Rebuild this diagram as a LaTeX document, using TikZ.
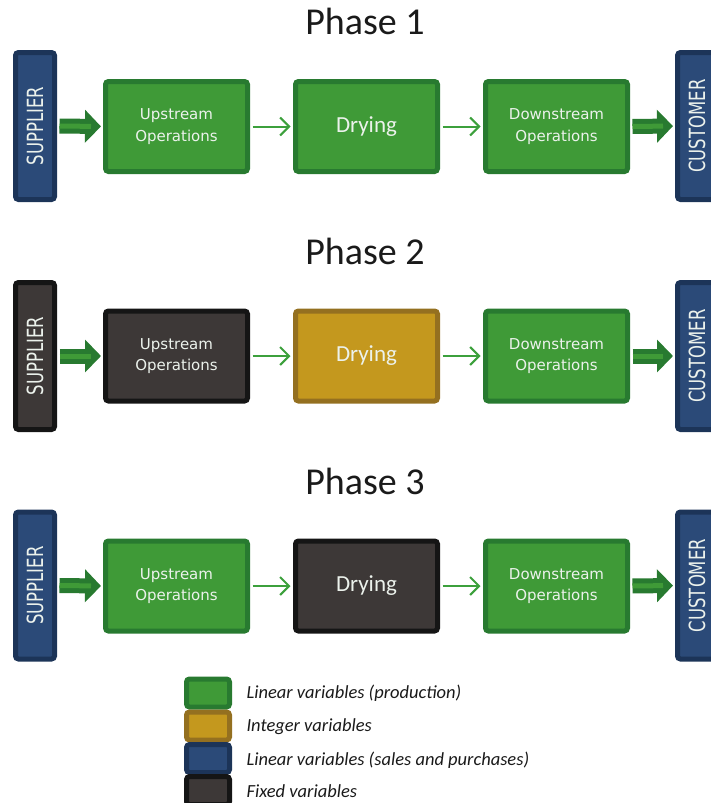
\documentclass[tikz,border=0pt]{standalone}
\usepackage{fontspec}
\setmainfont{Carlito}
\newfontfamily\boxfont{DejaVu Sans}
\usetikzlibrary{arrows.meta}

\definecolor{grnfill}{HTML}{3F9A37}
\definecolor{grnline}{HTML}{287A30}
\definecolor{bluefill}{HTML}{2B4A78}
\definecolor{blueline}{HTML}{1C3458}
\definecolor{goldfill}{HTML}{C4981E}
\definecolor{goldline}{HTML}{947020}
\definecolor{darkfill}{HTML}{3D3837}
\definecolor{darkline}{HTML}{151515}
\definecolor{arrowgrn}{HTML}{3CA03C}
\definecolor{boxtext}{HTML}{ECF2EC}
\definecolor{titletext}{HTML}{1A1A1A}

\begin{document}
\begin{tikzpicture}[x=1pt,y=-1pt,
  proc/.style={draw, line width=5pt, rounded corners=3pt, inner sep=0pt,
    minimum width=142pt, minimum height=90pt, align=center, text=boxtext},
  opbox/.style={proc, font=\boxfont\fontsize{15}{21.5}\selectfont},
  drybox/.style={proc, font=\fontsize{23}{27}\selectfont},
  side/.style={draw=blueline, fill=bluefill, line width=5pt, rounded corners=3pt,
    inner sep=0pt, minimum width=39pt, minimum height=147pt, text=boxtext,
    font=\boxfont\fontsize{16.5}{20}\selectfont},
  green/.style={fill=grnfill, draw=grnline},
  gold/.style={fill=goldfill, draw=goldline},
  blue/.style={fill=bluefill, draw=blueline},
  dark/.style={fill=darkfill, draw=darkline},
  title/.style={anchor=base, text=titletext, font=\fontsize{38}{44}\selectfont},
  flow/.style={draw=arrowgrn, line width=2pt, shorten <=2.5pt, shorten >=2.5pt,
    -{Straight Barb[length=9pt,width=18pt,line width=2pt]}},
  feedouter/.style={draw=grnline, line width=15pt, shorten <=2.5pt, shorten >=2pt,
    -{Triangle[length=16pt,width=32pt]}},
  feedinner/.style={draw=grnfill, line width=5pt, shorten <=2.5pt, shorten >=12pt},
  legbox/.style={draw, line width=5pt, rounded corners=3pt, inner sep=0pt,
    minimum width=43pt, minimum height=28pt},
  legtext/.style={anchor=west, text=titletext, font=\itshape\fontsize{18.5}{22}\selectfont}
]
\useasboundingbox (0,0) rectangle (710,803);

\newcommand{\sidelabel}[1]{\rotatebox{90}{\scalebox{1}[1.35]{#1}}}

% ---------- Phase 1 ----------
\node[title] (t1) at (365,34) {Phase 1};
\node[side, blue] (s1) at (35,126) {\sidelabel{SUPPLIER}};
\node[opbox, green] (u1) at (176.5,126.5) {Upstream\\Operations};
\node[drybox, green] (r1) at (366.5,126.5) {Drying};
\node[opbox, green] (d1) at (556.5,126.5) {Downstream\\Operations};
\node[side, blue] (c1) at (697,126) {\sidelabel{CUSTOMER}};

% ---------- Phase 2 ----------
\node[title] (t2) at (365,264) {Phase 2};
\node[side, dark] (s2) at (35,356) {\sidelabel{SUPPLIER}};
\node[opbox, dark] (u2) at (176.5,356) {Upstream\\Operations};
\node[drybox, gold] (r2) at (366.5,356) {Drying};
\node[opbox, green] (d2) at (556.5,356) {Downstream\\Operations};
\node[side, blue] (c2) at (697,356) {\sidelabel{CUSTOMER}};

% ---------- Phase 3 ----------
\node[title] (t3) at (365,494) {Phase 3};
\node[side, blue] (s3) at (35,585.5) {\sidelabel{SUPPLIER}};
\node[opbox, green] (u3) at (176.5,586) {Upstream\\Operations};
\node[drybox, dark] (r3) at (366.5,586) {Drying};
\node[opbox, green] (d3) at (556.5,586) {Downstream\\Operations};
\node[side, blue] (c3) at (697,585.5) {\sidelabel{CUSTOMER}};

% ---------- material flow ----------
\foreach \i in {1,2,3} {
  \draw[feedouter] (s\i.east) -- (u\i.west);
  \draw[feedinner] (s\i.east) -- (u\i.west);
  \draw[flow] (u\i.east) -- (r\i.west);
  \draw[flow] (r\i.east) -- (d\i.west);
  \draw[feedouter] (d\i.east) -- (c\i.west);
  \draw[feedinner] (d\i.east) -- (c\i.west);
}

% ---------- legend ----------
\node[legbox, green] (lg) at (208,693) {};
\node[legbox, gold]  (lo) at (208,726) {};
\node[legbox, blue]  (lb) at (208,758.5) {};
\node[legbox, dark]  (ld) at (208,790.5) {};
\node[legtext] (lgt) at (243,693) {Linear variables (production)};
\node[legtext] (lot) at (243,727) {Integer variables};
\node[legtext] (lbt) at (243,760) {Linear variables (sales and purchases)};
\node[legtext] (ldt) at (243,791) {Fixed variables};
\end{tikzpicture}
\end{document}
